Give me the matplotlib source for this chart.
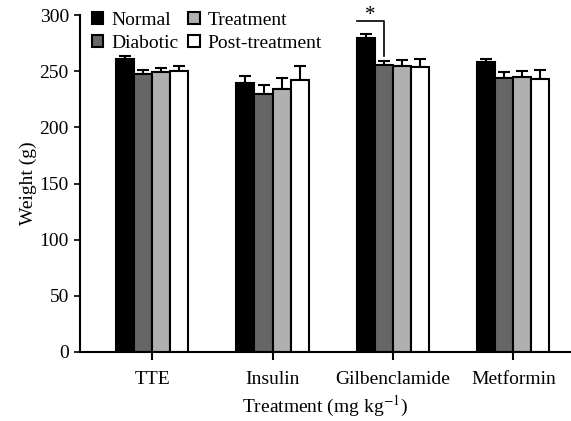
import matplotlib
matplotlib.use("Agg")
import matplotlib.pyplot as plt
import numpy as np

plt.rcParams['font.family'] = ['Liberation Serif', 'DejaVu Serif']
plt.rcParams['mathtext.fontset'] = 'stix'

groups = ["TTE", "Insulin", "Gilbenclamide", "Metformin"]
series = ["Normal", "Diabotic", "Treatment", "Post-treatment"]
normal = [261, 240, 280, 258]
diabotic = [248, 230, 256, 244]
treatment = [249, 234, 255, 245]
post = [250, 242, 254, 243]
normal_err = [3, 6, 3, 3]
diabotic_err = [3, 8, 3, 5]
treatment_err = [4, 10, 5, 5]
post_err = [5, 13, 7, 8]
colors = ["#000000", "#666666", "#b0b0b0", "#ffffff"]

values = [normal, diabotic, treatment, post]
errs = [normal_err, diabotic_err, treatment_err, post_err]

fig = plt.figure(figsize=(5.71, 4.21), dpi=100)
ax = fig.add_axes([0.14, 0.164, 0.858, 0.80])

x = np.arange(len(groups))
w = 0.15
offsets = [-1.5 * w, -0.5 * w, 0.5 * w, 1.5 * w]
for vals, er, c, off, lab in zip(values, errs, colors, offsets, series):
    ax.bar(x + off, vals, w, color=c, edgecolor='black', linewidth=1.5, label=lab, zorder=2)
    ax.errorbar(x + off, vals, yerr=[np.zeros(len(er)), er], fmt='none', ecolor='black',
                elinewidth=1.5, capsize=4, capthick=1.5, zorder=1)

# significance bracket for Gilbenclamide
gx = x[2]
bl = gx + offsets[0] - w / 2
br = gx + offsets[1]
ax.plot([bl, br, br], [295, 295, 264], color='black', linewidth=1.2, clip_on=False)
ax.text((bl + br) / 2, 300, "*", ha='center', va='center', fontsize=15, clip_on=False)

ax.set_xlim(-0.6, 3.47)
ax.set_ylim(0, 300)
ax.set_yticks(range(0, 301, 50))
ax.set_xticks(x)
ax.set_xticklabels(groups, fontsize=14)
ax.tick_params(axis='y', labelsize=14, direction='out', length=4, width=1.2, pad=4)
ax.tick_params(axis='x', direction='out', length=6, width=1.5, pad=8)
for s in ['top', 'right']:
    ax.spines[s].set_visible(False)
for s in ['left', 'bottom']:
    ax.spines[s].set_linewidth(1.5)

ax.set_ylabel("Weight (g)", fontsize=14, labelpad=2)
ax.set_xlabel(r"Treatment (mg kg$^{-1}$)", fontsize=14, labelpad=4)

leg = ax.legend(ncol=2, loc='upper left', bbox_to_anchor=(0.0, 1.045), frameon=False,
                fontsize=14, handlelength=0.6, handleheight=0.6, handletextpad=0.4,
                columnspacing=0.5, labelspacing=0.3, borderaxespad=0.2)

fig.savefig("out.png", dpi=100)
